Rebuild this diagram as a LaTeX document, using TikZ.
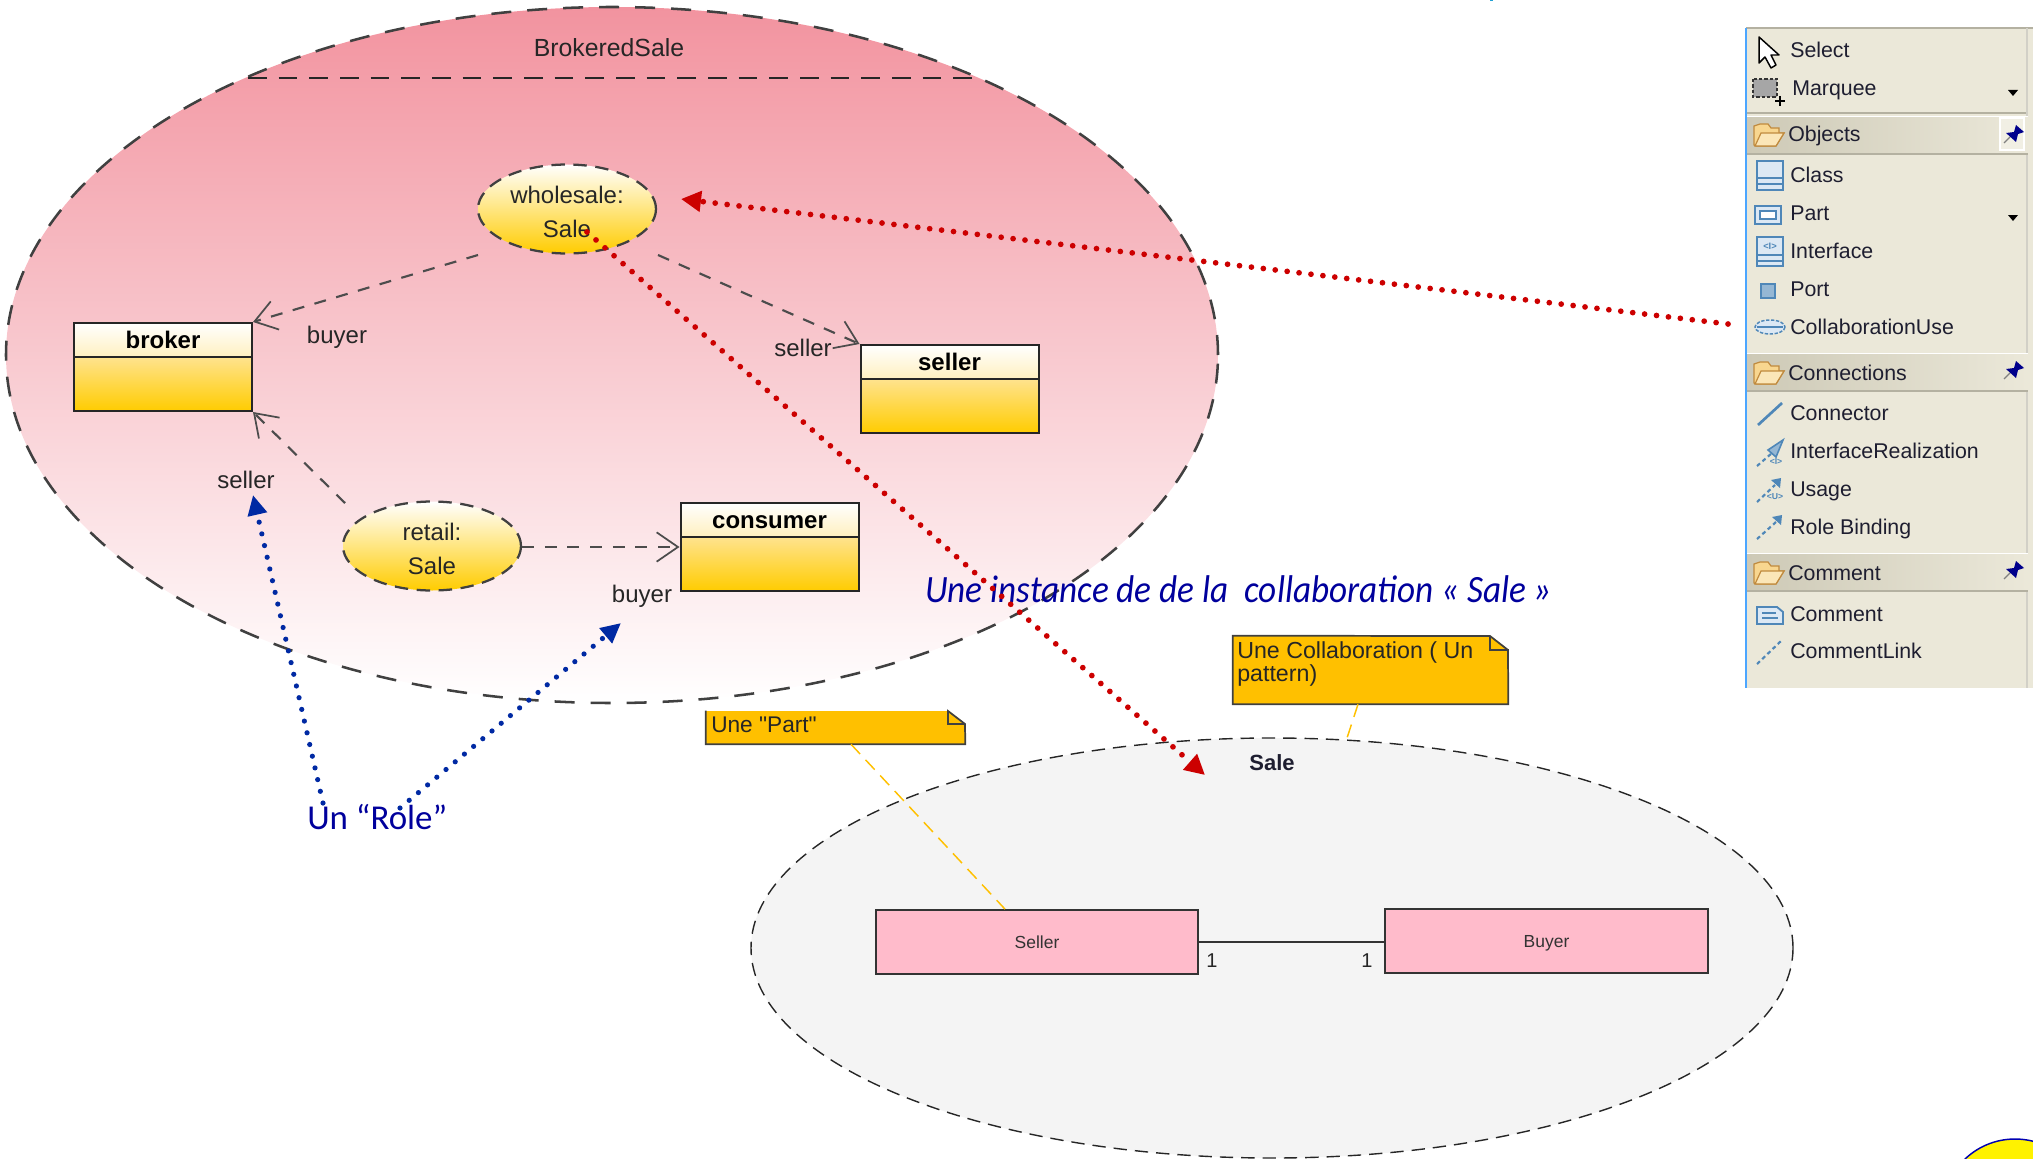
\documentclass[tikz,border=0pt]{standalone}
\usepackage{fontspec}
\setmainfont{Liberation Sans}
\newfontfamily\lsplain{Liberation Sans}
\newfontfamily\carl{Carlito}
\newfontfamily\carlN[FakeStretch=0.91]{Carlito}
\usetikzlibrary{arrows.meta,shapes.geometric}
\definecolor{pinktop}{HTML}{F2939F}
\definecolor{goldA}{HTML}{FFCC00}
\definecolor{goldB}{HTML}{FFE38E}
\definecolor{goldC}{HTML}{FFF0C0}
\definecolor{noteY}{HTML}{FFC000}
\definecolor{pinkbox}{HTML}{FFBBCB}
\definecolor{saleG}{HTML}{F4F4F4}
\definecolor{redA}{HTML}{CC0000}
\definecolor{blueA}{HTML}{0029A3}
\definecolor{blueT}{HTML}{00009C}
\definecolor{panel}{HTML}{EBE8D9}
\definecolor{panelD}{HTML}{CDC9B6}
\definecolor{panelL}{HTML}{B4B1A1}
\definecolor{icon}{HTML}{4F87B8}
\definecolor{iconL}{HTML}{DCE8F4}
\definecolor{ink}{HTML}{1E1E30}
\definecolor{foldF}{HTML}{F8D68F}
\definecolor{foldL}{HTML}{FBE6B8}
\definecolor{foldD}{HTML}{C08A3E}
\tikzset{
 x=0.75pt,y=-0.75pt,
 lbl/.style={inner sep=0pt,anchor=base,font=\fontsize{18pt}{20pt}\selectfont,text=black!85},
 lft/.style={inner sep=0pt,anchor=base west},
 ptext/.style={lft,font=\fontsize{16pt}{18pt}\selectfont,text=ink},
 bigell/.style={ellipse,inner sep=0pt,draw=black!75,line width=1.9pt,dash pattern=on 15pt off 12pt},
 partell/.style={ellipse,inner sep=0pt,draw=black!75,line width=1.7pt,dash pattern=on 10pt off 6.5pt,top color=white,bottom color=goldA,
   minimum width=178*.75pt,minimum height=89*.75pt,align=center,font=\fontsize{18pt}{25.5pt}\selectfont,text=black!85},
 hdr/.style={rectangle,inner sep=0pt,draw=black!85,line width=1.5pt,top color=white,bottom color=goldC,
   minimum width=178*.75pt,minimum height=34*.75pt,font=\bfseries\fontsize{18pt}{20pt}\selectfont,text height=13pt,text depth=0pt},
 bodyb/.style={rectangle,inner sep=0pt,draw=black!85,line width=1.5pt,top color=goldB,bottom color=goldA,minimum width=178*.75pt,minimum height=54*.75pt},
 dep/.style={draw=black!70,line width=1.6pt,dash pattern=on 9pt off 8pt,-{Straight Barb[length=16pt,width=22pt,line width=1.3pt]}},
 reddots/.style={draw=redA,line width=4.3pt,line cap=round,dash pattern=on 0pt off 9pt,-{Triangle[length=15pt,width=15pt,fill=redA]}},
 bluedots/.style={draw=blueA,line width=3.9pt,line cap=round,dash pattern=on 0pt off 9pt,-{Triangle[length=15pt,width=14pt,fill=blueA]}},
 noteb/.style={rectangle,inner sep=0pt,fill=noteY},
 noteline/.style={draw=black!75,line width=1.3pt},
 notelink/.style={draw=noteY,line width=1.1pt,dash pattern=on 10pt off 6pt},
 pinkb/.style={rectangle,inner sep=0pt,draw=black!80,line width=1.3pt,fill=pinkbox,font=\fontsize{13.1pt}{15pt}\selectfont,text=black!80,text height=10pt,text depth=0pt},
 pheader/.style={rectangle,inner sep=0pt,left color=panelD,middle color=panel!88!panelD,right color=panel,minimum width=281*.75pt,minimum height=37*.75pt},
 ico/.style={draw=icon,line width=1.2pt,fill=iconL},
 icol/.style={draw=icon,line width=1.6pt,dash pattern=on 3pt off 2.4pt},
}
\newcommand{\folderico}[1]{%
 \draw[draw=foldD,line width=.9pt,fill=foldF] (1754,#1+10) -- (1754,#1-9) -- (1760,#1-11) -- (1768,#1-11) -- (1771,#1-7) -- (1779,#1-7) -- (1779,#1-2) -- (1784,#1-2) -- (1776,#1+11) -- (1756,#1+11) -- cycle;
 \draw[draw=foldD,line width=.9pt,fill=foldL] (1755,#1+11) -- (1761,#1-2) -- (1784,#1-2) -- (1776,#1+11) -- cycle;}
\newcommand{\pinico}[1]{%
 \draw[black!50,line width=1pt] (2004,#1+8) -- (2010,#1+2);
 \fill[blue!55!black] (2006,#1-2) -- (2014,#1-3) -- (2016,#1-10) -- (2024,#1-3) -- (2018,#1-1) -- (2016,#1+7) -- cycle;}
\begin{document}
\begin{tikzpicture}
\useasboundingbox (0,0) rectangle (2033,1159);
\clip (0,0) rectangle (2033,1159);
\fill[cyan!70!teal] (1490,0) rectangle (1493,1.5);
% big collaboration
\node[bigell,top color=pinktop,bottom color=white,minimum width=1212*.75pt,minimum height=696*.75pt] (brokered) at (612,355) {};
\coordinate (sepL) at (248,78);
\coordinate (sepR) at (972,78);
\draw[draw=black!85,line width=1.7pt,dash pattern=on 14pt off 9pt] (sepL) -- (sepR);
\node[lbl,font=\fontsize{18.6pt}{20pt}\selectfont] (brokeredT) at (609,57) {BrokeredSale};
\node[partell] (wholesale) at (567,209) {\rule{0pt}{17pt}wholesale:\\Sale};
\node[partell] (retail) at (432,546) {\rule{0pt}{17pt}retail:\\Sale};
\node[hdr] (brokerH) at (163,340) {broker};
\node[bodyb] (broker) at (163,384) {};
\node[hdr] (sellerH) at (949.5,362) {seller};
\node[bodyb] (seller) at (949.5,406) {};
\node[hdr] (consumerH) at (769.5,519.5) {consumer};
\node[bodyb] (consumer) at (769.5,564) {};
\coordinate (wsA) at (478,255);
\coordinate (wsB) at (658,255);
\coordinate (rtA) at (345,503);
\draw[dep] (wsA) -- (brokerH.north east);
\draw[dep] (wsB) -- (sellerH.north west);
\draw[dep] (rtA) -- (broker.south east);
\draw[dep] (retail.east |- consumer.north) ++(0,11) coordinate (rtB) -- (rtB -| consumer.west);
\node[lbl] (lbuyerA) at (337,343) {buyer};
\node[lbl] (lsellerA) at (803,356) {seller};
\node[lbl] (lsellerB) at (246,488) {seller};
\node[lbl] (lbuyerB) at (642,602) {buyer};
% Sale collaboration
\node[ellipse,inner sep=0pt,draw=black!85,line width=1.05pt,dash pattern=on 10pt off 6pt,fill=saleG,minimum width=1042*.75pt,minimum height=420*.75pt] (sale) at (1272,948) {};
\node[lbl,font=\bfseries\fontsize{16.5pt}{18pt}\selectfont,text=ink] (saleT) at (1272,770) {Sale};
\node[pinkb,minimum width=322*.75pt,minimum height=64*.75pt] (pseller) at (1037,942) {Seller};
\node[pinkb,minimum width=323*.75pt,minimum height=64*.75pt] (pbuyer) at (1546.5,941) {Buyer};
\draw[draw=black!80,line width=1.3pt] (pseller.east) -- (pseller.east -| pbuyer.west);
\node[lbl,font=\fontsize{15pt}{16pt}\selectfont] (one) at (1212,967) {1};
\node[lbl,font=\fontsize{15pt}{16pt}\selectfont] (two) at (1367,967) {1};
% notes
\node[noteb,minimum width=259*.75pt,minimum height=33*.75pt] (noteA) at (835.5,727.5) {};
\fill[white] (948,710) -- (966,710) -- (966,724) -- cycle;
\draw[noteline] (noteA.north west) -- (noteA.south west) -- (noteA.south east) -- (965,724) -- (948,711) -- (948,724) -- (965,724);
\node[lft,font=\lsplain\fontsize{17pt}{19pt}\selectfont,text=black!85] (noteAT) at (711,732) {Une "Part"};
\node[noteb,minimum width=275*.75pt,minimum height=68*.75pt] (noteB) at (1370.5,670) {};
\fill[white] (1490,635) -- (1509,635) -- (1509,650) -- cycle;
\draw[noteline] (1508,650) -- (1490,636) -- (noteB.north west) -- (noteB.south west) -- (noteB.south east) -- (1508,650) -- (1490,650) -- (1490,636);
\node[lft,font=\fontsize{17.4pt}{20pt}\selectfont,text=black!85] (noteBT) at (1237,658) {Une Collaboration ( Un};
\node[lft,font=\fontsize{17.4pt}{20pt}\selectfont,text=black!85] (noteBU) at (1237,681) {pattern)};
\draw[notelink] (851,0 |- noteA.south) -- (1005,0 |- pseller.north);
\draw[notelink] (1358,0 |- noteB.south) -- (1347,738);
% palette
\node[rectangle,inner sep=0pt,fill=panel,minimum width=287*.75pt,minimum height=660*.75pt] (pal) at (1889.5,358) {};
\draw[panelL,line width=1.5pt] (pal.north west) -- (pal.north east);
\draw[panelL!60!white,line width=1pt] (2027,28) -- (2027,688);
\draw[panelL,line width=1.5pt] (1747,113) -- (2026,113);
\node[pheader] (hObj) at (1887,135) {};
\draw[panelL,line width=1.5pt] (hObj.south west) -- (hObj.south east);
\draw[white,line width=1pt] (hObj.north west) -- (hObj.north east);
\node[pheader] (hCon) at (1887,372) {};
\draw[panelL,line width=1.5pt] (hCon.south west) -- (hCon.south east);
\draw[white,line width=1pt] (hCon.north west) -- (hCon.north east);
\node[pheader] (hCom) at (1887,572) {};
\draw[panelL,line width=1.5pt] (hCom.south west) -- (hCom.south east);
\draw[white,line width=1pt] (hCom.north west) -- (hCom.north east);
\draw[blue!50!cyan!70!white,line width=1.8pt] (pal.north west) -- (pal.south west);
\node[ptext] (t1) at (1790,58) {Select};
\node[ptext] (t2) at (1792,96) {Marquee};
\node[ptext] (t3) at (1788,142) {Objects};
\node[ptext] (t4) at (1790,182) {Class};
\node[ptext] (t5) at (1790,220) {Part};
\node[ptext] (t6) at (1790,258) {Interface};
\node[ptext] (t7) at (1790,296) {Port};
\node[ptext] (t8) at (1790,334) {CollaborationUse};
\node[ptext] (t9) at (1788,380) {Connections};
\node[ptext] (t10) at (1790,420) {Connector};
\node[ptext] (t11) at (1790,458) {InterfaceRealization};
\node[ptext] (t12) at (1790,496) {Usage};
\node[ptext] (t13) at (1790,534) {Role Binding};
\node[ptext] (t14) at (1788,580) {Comment};
\node[ptext] (t15) at (1790,621) {Comment};
\node[ptext] (t16) at (1790,658) {CommentLink};
% palette icons
\draw[black,fill=white,line width=1.1pt,line join=round] (1759,37) -- (1759,63) -- (1765,57) -- (1771,68) -- (1776,65) -- (1771,55) -- (1779,55) -- cycle;
\draw[black!80,fill=black!35,line width=1.2pt,dash pattern=on 2.5pt off 1.5pt] (1753,79) rectangle (1777,97);
\draw[black,line width=1pt] (1775,101) -- (1785,101) (1780,96) -- (1780,106);
\fill[black] (2008,90) -- (2018,90) -- (2013,96) -- cycle;
\fill[black] (2008,215) -- (2018,215) -- (2013,221) -- cycle;
\folderico{135}\folderico{373}\folderico{573}
\draw[white,line width=1pt,fill=panel!70!white] (2000,118) rectangle (2024,150);
\pinico{135}\pinico{371}\pinico{571}
\draw[ico] (1757,161) rectangle (1783,190);
\draw[icon,line width=1.2pt] (1757,178) -- (1783,178) (1757,184) -- (1783,184);
\draw[ico] (1755,206) rectangle (1781,224);
\draw[ico,fill=white] (1760,211) rectangle (1776,219);
\draw[ico] (1757,237) rectangle (1783,266);
\node[inner sep=0pt,font=\lsplain\bfseries\fontsize{7pt}{7pt}\selectfont,text=icon] (icoI) at (1770,246) {<I>};
\draw[icon,line width=1.2pt] (1757,255) -- (1783,255) (1757,261) -- (1783,261);
\draw[draw=icon,line width=1.2pt,fill=icon!60!white] (1761,284) rectangle (1775,298);
\draw[draw=icon,line width=1.1pt,fill=iconL,dash pattern=on 2.5pt off 1.2pt] (1770,327) ellipse [x radius=15,y radius=7];
\draw[icon,line width=1.1pt] (1757,327) -- (1783,327);
\draw[icon,line width=2pt] (1758,425) -- (1782,403);
\draw[icol] (1757,466) -- (1772,453);
\draw[ico,fill=icon!60!white] (1768,450) -- (1783,440) -- (1776,457) -- cycle;
\node[inner sep=0pt,font=\lsplain\bfseries\fontsize{6.5pt}{7pt}\selectfont,text=icon] (icoR) at (1776,462) {<I>};
\draw[icol] (1757,502) -- (1775,485);
\fill[icon] (1781,478) -- (1780,488) -- (1771,480) -- cycle;
\node[inner sep=0pt,font=\lsplain\bfseries\fontsize{6.5pt}{7pt}\selectfont,text=icon] (icoU) at (1775,497) {<U>};
\draw[icol] (1757,539) -- (1776,522);
\fill[icon] (1782,515) -- (1781,525) -- (1772,517) -- cycle;
\draw[draw=icon,line width=1.4pt,fill=iconL] (1757,607) -- (1777,607) -- (1783,612) -- (1783,624) -- (1757,624) -- cycle;
\draw[icon,line width=1.2pt] (1762,613) -- (1776,613) (1762,618) -- (1778,618);
\draw[icol] (1757,664) -- (1781,641);
% yellow circle
\node[circle,inner sep=0pt,draw=blue!70!black,line width=1.1pt,fill=yellow,minimum size=145*.75pt] (sun) at (2015,1211.5) {};
% annotations
\node[lft,font=\carlN\itshape\fontsize{29pt}{31pt}\selectfont,text=blueT] (inst) at (925,602) {Une instance de de la~ collaboration « Sale »};
\node[lft,font=\carl\fontsize{26.2pt}{28pt}\selectfont,text=blueT] (role) at (307,829) {Un “Role”};
\coordinate (palArrow) at (1728,324);
\coordinate (redTipA) at (681,199);
\coordinate (redS) at (587,232);
\coordinate (redTipB) at (1205,775);
\coordinate (blS1) at (323,803);
\coordinate (blT1) at (253,495);
\coordinate (blS2) at (400,808);
\coordinate (blT2) at (621,623);
\draw[reddots] (palArrow) -- (redTipA);
\draw[reddots] (redS) -- (redTipB);
\draw[bluedots] (blS1) -- (blT1);
\draw[bluedots] (blS2) -- (blT2);
\end{tikzpicture}
\end{document}
